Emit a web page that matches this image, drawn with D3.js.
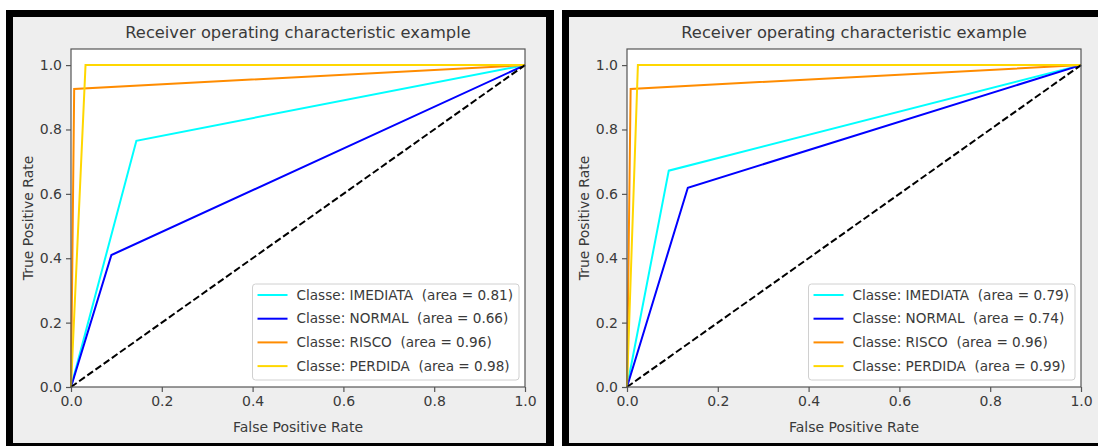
<!DOCTYPE html>
<html>
<head>
<meta charset="utf-8">
<script src="https://cdn.jsdelivr.net/npm/d3@7"></script>
<style>
  html, body { margin: 0; background: #fff; overflow: hidden; }
  svg { display: block; }
  text { font-family: "DejaVu Sans", sans-serif; fill: #3a3a3a; }
</style>
</head>
<body>
<div id="chart"></div>
<script>
var svgWidth = 1098;
var svgHeight = 446;

// chart data
var classNames = ["IMEDIATA", "NORMAL", "RISCO", "PERDIDA"];
var classColors = ["aqua", "blue", "darkorange", "gold"];
var axisTicks = [0.0, 0.2, 0.4, 0.6, 0.8, 1.0];

// left panel
var fprLeft = [[0, 0.144, 1], [0, 0.089, 1], [0, 0.007, 1], [0, 0.032, 1]];
var tprLeft = [[0, 0.765, 1], [0, 0.41, 1], [0, 0.926, 1], [0, 1.0, 1]];
var aucLeft = ["0.81", "0.66", "0.96", "0.98"];

// right panel
var fprRight = [[0, 0.092, 1], [0, 0.134, 1], [0, 0.008, 1], [0, 0.024, 1]];
var tprRight = [[0, 0.672, 1], [0, 0.619, 1], [0, 0.926, 1], [0, 1.0, 1]];
var aucRight = ["0.79", "0.74", "0.96", "0.99"];

var svg = d3.select("#chart")
  .append("svg")
  .attr("width", svgWidth)
  .attr("height", svgHeight);

function drawPanel(frameX, frameRight, greyRight, fpr, tpr, auc) {
  // black frame + grey figure background
  svg.append("rect")
    .attr("x", frameX).attr("y", 10)
    .attr("width", frameRight - frameX).attr("height", 450)
    .attr("fill", "#000");
  svg.append("rect")
    .attr("x", frameX + 7).attr("y", 17)
    .attr("width", greyRight - frameX - 7).attr("height", 426)
    .attr("fill", "#eeeeee");

  var left = frameX + 65;
  var top = 49;
  var width = 454;
  var height = 338;

  var g = svg.append("g")
    .attr("transform", `translate(${left}, ${top})`);

  var x = d3.scaleLinear().domain([0, 1]).range([0, width]);
  var y = d3.scaleLinear().domain([0, 1.05]).range([height, 0]);

  g.append("rect")
    .attr("width", width).attr("height", height)
    .attr("fill", "#fff");

  var line = d3.line()
    .x(d => x(d[0]))
    .y(d => y(d[1]));

  classNames.forEach(function(name, i) {
    var pts = fpr[i].map((v, j) => [v, tpr[i][j]]);
    g.append("path")
      .datum(pts)
      .attr("d", line)
      .attr("fill", "none")
      .attr("stroke", classColors[i])
      .attr("stroke-width", 2);
  });

  // chance line
  g.append("path")
    .datum([[0, 0], [1, 1]])
    .attr("d", line)
    .attr("fill", "none")
    .attr("stroke", "#000")
    .attr("stroke-width", 2)
    .attr("stroke-dasharray", "7,3");

  // spines
  g.append("rect")
    .attr("width", width).attr("height", height)
    .attr("fill", "none")
    .attr("stroke", "#555")
    .attr("stroke-width", 1.2);

  var bottomAxis = d3.axisBottom(x).tickValues(axisTicks).tickFormat(d3.format(".1f"))
    .tickSize(5).tickPadding(4);
  var leftAxis = d3.axisLeft(y).tickValues(axisTicks).tickFormat(d3.format(".1f"))
    .tickSize(5).tickPadding(4);

  var xa = g.append("g")
    .attr("transform", `translate(0, ${height})`)
    .call(bottomAxis);
  var ya = g.append("g").call(leftAxis);

  [xa, ya].forEach(function(a) {
    a.select(".domain").remove();
    a.selectAll("line").attr("stroke", "#555").attr("stroke-width", 1.2);
    a.selectAll("text")
      .style("font-family", "DejaVu Sans")
      .style("font-size", "14px")
      .attr("fill", "#3a3a3a");
  });

  g.append("text")
    .attr("x", width / 2)
    .attr("y", -11)
    .attr("text-anchor", "middle")
    .style("font-size", "16.3px")
    .text("Receiver operating characteristic example");

  g.append("text")
    .attr("x", width / 2)
    .attr("y", height + 45)
    .attr("text-anchor", "middle")
    .style("font-size", "14px")
    .text("False Positive Rate");

  g.append("text")
    .attr("transform", `translate(${-38}, ${height / 2}) rotate(-90)`)
    .attr("text-anchor", "middle")
    .style("font-size", "14px")
    .text("True Positive Rate");

  // legend, lower right
  var labels = classNames.map((n, i) => `Classe: ${n}  (area = ${auc[i]})`);
  var legend = g.append("g");
  var box = legend.append("rect")
    .attr("rx", 3)
    .attr("fill", "#fff")
    .attr("fill-opacity", 0.8)
    .attr("stroke", "#d0d0d0");

  var maxW = 0;
  labels.forEach(function(t, i) {
    var ty = i * 23.7;
    legend.append("line")
      .attr("x1", 5).attr("x2", 35)
      .attr("y1", ty).attr("y2", ty)
      .attr("stroke", classColors[i])
      .attr("stroke-width", 2);
    var tx = legend.append("text")
      .attr("x", 44)
      .attr("y", ty)
      .attr("dy", "0.35em")
      .style("font-size", "13.6px")
      .style("white-space", "pre")
      .text(t);
    maxW = Math.max(maxW, tx.node().getComputedTextLength());
  });
  var boxW = 44 + maxW + 6;
  var boxH = 96;
  box.attr("x", 0).attr("y", -11).attr("width", boxW).attr("height", boxH);
  legend.attr("transform", `translate(${width - 6 - boxW}, ${height - 7 - boxH + 11})`);
}

drawPanel(6, 554, 546, fprLeft, tprLeft, aucLeft);
drawPanel(562, 1200, 1200, fprRight, tprRight, aucRight);
</script>
</body>
</html>
